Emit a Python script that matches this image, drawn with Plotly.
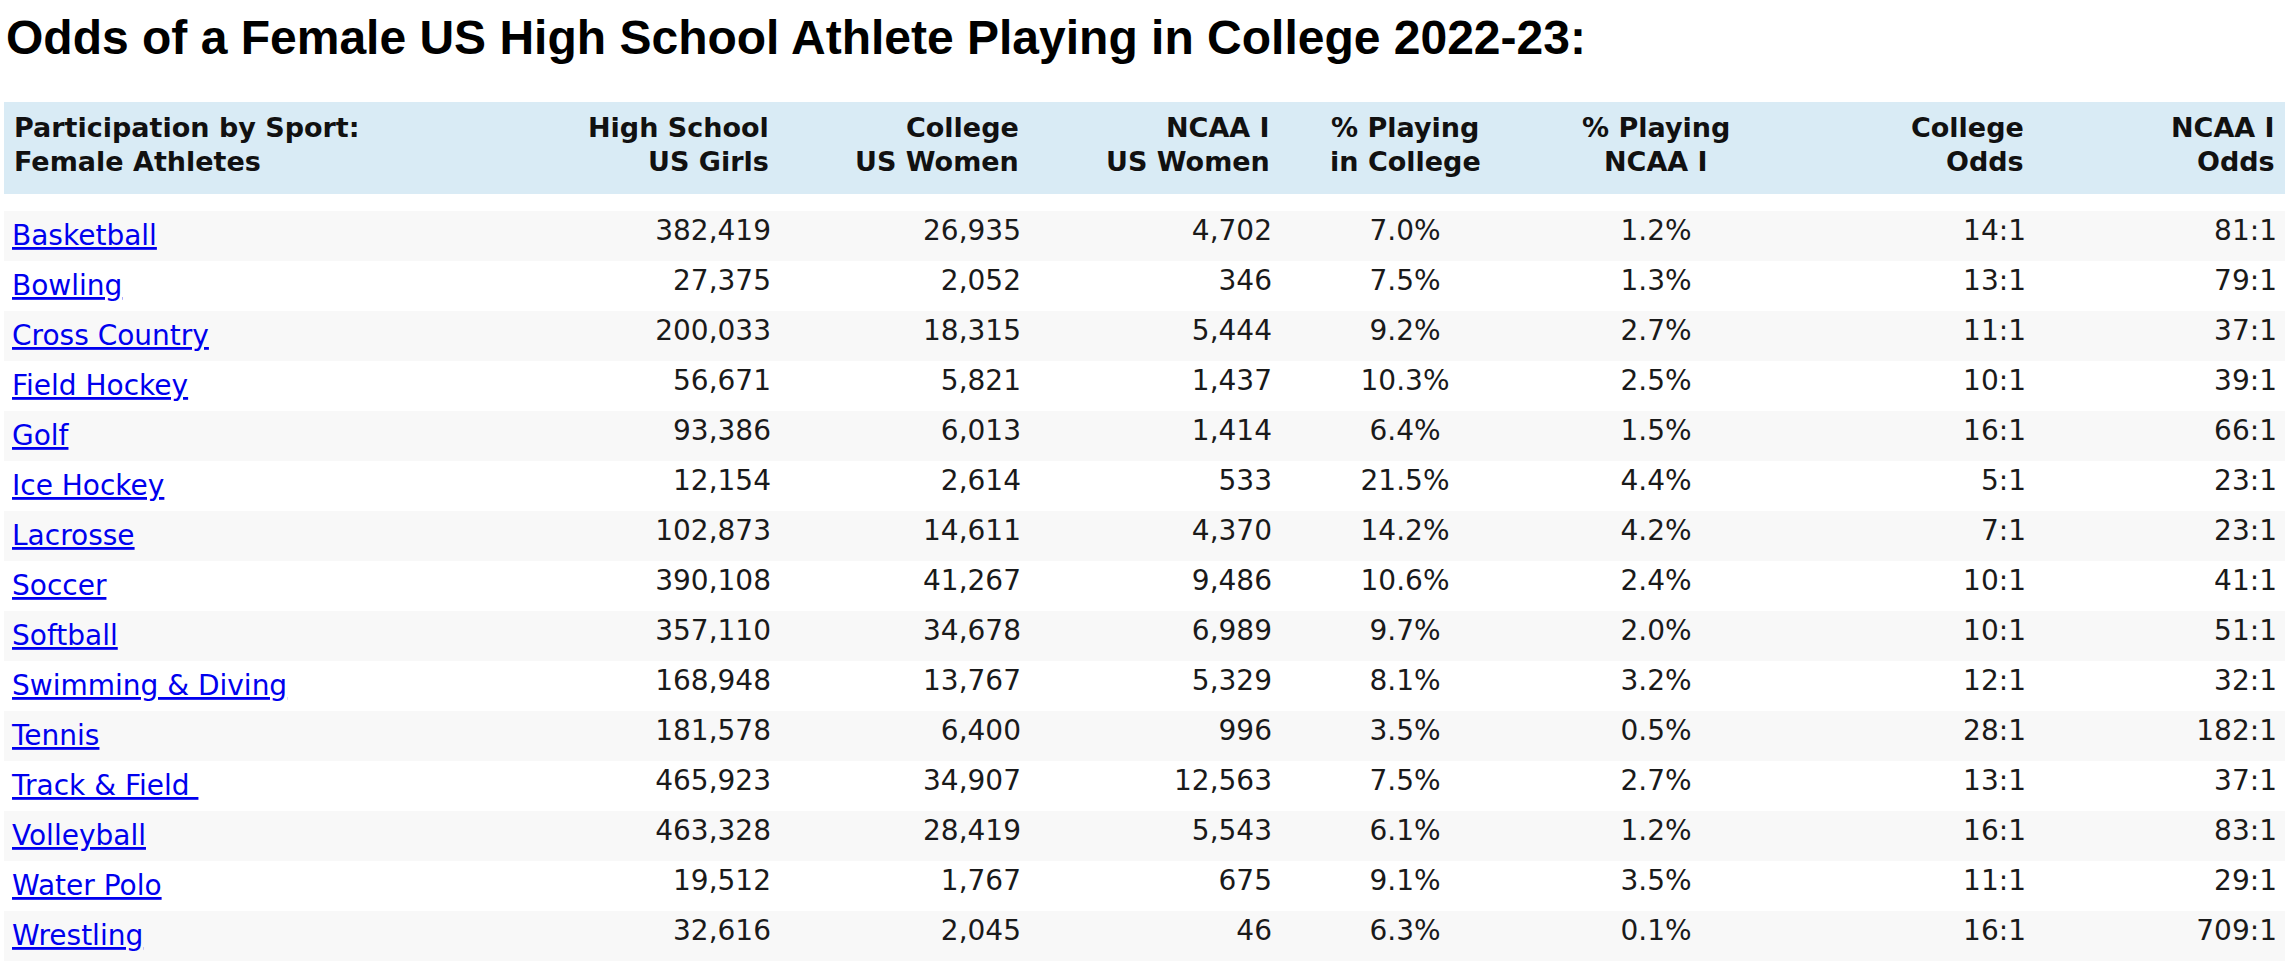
import plotly.graph_objects as go

W, H = 2293, 964

title_text = "Odds of a Female US High School Athlete Playing in College 2022-23:"

headers = [
    ["Participation by Sport:", "Female Athletes"],
    ["High School", "US Girls"],
    ["College", "US Women"],
    ["NCAA I", "US Women"],
    ["% Playing", "in College"],
    ["% Playing", "NCAA I"],
    ["College", "Odds"],
    ["NCAA I", "Odds"],
]

sports = ["Basketball", "Bowling", "Cross Country", "Field Hockey", "Golf",
          "Ice Hockey", "Lacrosse", "Soccer", "Softball", "Swimming & Diving",
          "Tennis", "Track & Field\u00a0", "Volleyball", "Water Polo", "Wrestling"]
hs_girls = [382419, 27375, 200033, 56671, 93386, 12154, 102873, 390108, 357110,
            168948, 181578, 465923, 463328, 19512, 32616]
college_women = [26935, 2052, 18315, 5821, 6013, 2614, 14611, 41267, 34678,
                 13767, 6400, 34907, 28419, 1767, 2045]
ncaa1_women = [4702, 346, 5444, 1437, 1414, 533, 4370, 9486, 6989, 5329, 996,
               12563, 5543, 675, 46]
pct_college = [7.0, 7.5, 9.2, 10.3, 6.4, 21.5, 14.2, 10.6, 9.7, 8.1, 3.5, 7.5,
               6.1, 9.1, 6.3]
pct_ncaa1 = [1.2, 1.3, 2.7, 2.5, 1.5, 4.4, 4.2, 2.4, 2.0, 3.2, 0.5, 2.7, 1.2,
             3.5, 0.1]
college_odds = [14, 13, 11, 10, 16, 5, 7, 10, 10, 12, 28, 13, 16, 11, 16]
ncaa1_odds = [81, 79, 37, 39, 66, 23, 23, 41, 51, 32, 182, 37, 83, 29, 709]

# styles
HEADER_BG = "#d9ebf5"
ROW_ALT = "#f8f8f8"
LINK = "#0000ee"
TEXT = "#1a1a1a"
HEAD_TEXT = "#111111"
FONT = "DejaVu Sans"
PAD = 8

col_widths = [516, 259, 250, 251, 250, 252, 252, 251]
aligns = ["left", "right", "right", "right", "center", "center", "right", "right"]

cells = [
    [f"<u>{s}</u>" for s in sports],
    [f"{v:,}" for v in hs_girls],
    [f"{v:,}" for v in college_women],
    [f"{v:,}" for v in ncaa1_women],
    [f"{v:.1f}%" for v in pct_college],
    [f"{v:.1f}%" for v in pct_ncaa1],
    [f"{v}:1" for v in college_odds],
    [f"{v}:1" for v in ncaa1_odds],
]

n = len(sports)
row_fill = [ROW_ALT if i % 2 == 0 else "white" for i in range(n)]
fills = [row_fill for _ in headers]
font_colors = [LINK] + [TEXT] * (len(headers) - 1)

table_left = 4
table_right = table_left + sum(col_widths)
table_top = 102
band_bottom = 194
header_h = 109
row_h = 50

fig = go.Figure(go.Table(
    domain=dict(x=[table_left / W, table_right / W], y=[0, 1 - table_top / H]),
    columnwidth=col_widths,
    header=dict(
        values=[""] * len(headers),
        align=aligns,
        height=header_h,
        fill=dict(color="rgba(0,0,0,0)"),
        line=dict(width=0, color="rgba(0,0,0,0)"),
        font=dict(family=FONT, size=27, color=HEAD_TEXT),
    ),
    cells=dict(
        values=cells,
        align=aligns,
        height=row_h,
        fill=dict(color=fills),
        line=dict(width=0, color="rgba(0,0,0,0)"),
        font=dict(family=FONT, size=28, color=font_colors),
    ),
))

# header band
fig.add_shape(type="rect", xref="paper", yref="paper",
              x0=table_left / W, x1=table_right / W,
              y0=1 - band_bottom / H, y1=1 - table_top / H,
              fillcolor=HEADER_BG, line=dict(width=0), layer="below")

# header labels (per-line so each line follows the column alignment)
line_centers = [128, 161.5]
x0 = table_left
for lines, w, al in zip(headers, col_widths, aligns):
    if al == "left":
        xp, xa = x0 + PAD, "left"
    elif al == "right":
        xp, xa = x0 + w - PAD, "right"
    else:
        xp, xa = x0 + w / 2, "center"
    for txt, yc in zip(lines, line_centers):
        fig.add_annotation(text=f"<b>{txt}</b>", xref="paper", yref="paper",
                           x=xp / W, y=1 - yc / H, xanchor=xa, yanchor="middle",
                           showarrow=False,
                           font=dict(family=FONT, size=27, color=HEAD_TEXT))
    x0 += w

fig.add_annotation(text=f"<b>{title_text}</b>", xref="paper", yref="paper",
                   x=4 / W, y=1 - 38 / H, xanchor="left", yanchor="middle",
                   showarrow=False,
                   font=dict(family="Liberation Sans", size=48, color="black"))

fig.update_layout(width=W, height=H, margin=dict(l=0, r=0, t=0, b=0),
                  paper_bgcolor="white", plot_bgcolor="white")

fig.write_html("out.html", config={"displayModeBar": False},
               post_script="document.body.style.margin='0';")
